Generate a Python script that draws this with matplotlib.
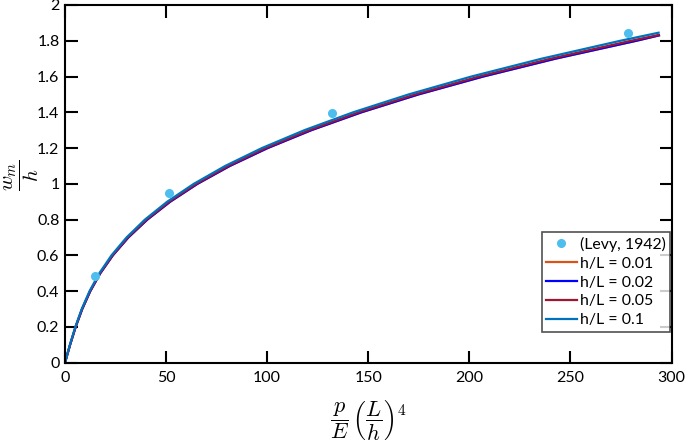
import matplotlib.pyplot as plt

plt.rcParams['font.family'] = ['Lato', 'DejaVu Sans']
plt.rcParams['mathtext.fontset'] = 'cm'

# Levy (1942) reference points
levy_x = [14.8, 51.5, 132, 278.4]
levy_y = [0.482, 0.947, 1.398, 1.842]

# simulated curves for each h/L : load parameter vs w_m/h
w_01 = [0, 0.1, 0.2, 0.3, 0.4, 0.5, 0.6, 0.7, 0.8, 0.9, 1.0, 1.1, 1.2, 1.3, 1.4, 1.5, 1.6, 1.7, 1.8, 1.845]
p_01 = [0, 2.44, 5.12, 8.27, 12.14, 16.96, 22.98, 30.42, 39.53, 50.54, 63.7, 79.24, 97.40, 118.42,
        142.54, 169.99, 201.01, 235.84, 274.73, 293.61]

w_005 = [0, 0.1, 0.2, 0.3, 0.4, 0.5, 0.6, 0.7, 0.8, 0.9, 1.0, 1.1, 1.2, 1.3, 1.4, 1.5, 1.6, 1.7, 1.8, 1.832]
p_005 = [0, 2.49, 5.22, 8.43, 12.38, 17.3, 23.45, 31.0, 40.3, 51.5, 64.9, 80.7, 99.2, 120.7,
         145.2, 173.2, 204.8, 240.3, 280.0, 293.5]

w_002 = [0, 0.1, 0.2, 0.3, 0.4, 0.5, 0.6, 0.7, 0.8, 0.9, 1.0, 1.1, 1.2, 1.3, 1.4, 1.5, 1.6, 1.7, 1.8, 1.83]
p_002 = [0, 2.51, 5.27, 8.51, 12.5, 17.45, 23.65, 31.3, 40.7, 52.0, 65.5, 81.5, 100.2, 121.8,
         146.6, 174.8, 206.8, 242.6, 282.6, 293.8]

w_001 = [0, 0.1, 0.2, 0.3, 0.4, 0.5, 0.6, 0.7, 0.8, 0.9, 1.0, 1.1, 1.2, 1.3, 1.4, 1.5, 1.6, 1.7, 1.8, 1.83]
p_001 = [0, 2.51, 5.28, 8.52, 12.51, 17.46, 23.66, 31.32, 40.72, 52.03, 65.53, 81.53, 100.25, 121.85,
         146.65, 174.85, 206.85, 242.65, 282.65, 293.8]

fig = plt.figure(figsize=(6.85, 4.46), dpi=100)
ax = fig.add_axes([0.0949, 0.1868, 0.8854, 0.802])

ax.plot(levy_x, levy_y, 'o', color='#4DBEEE', markersize=5.5, label='(Levy, 1942)', zorder=5)
ax.plot(p_001, w_001, color='#D95319', lw=1.6, label='h/L = 0.01')
ax.plot(p_002, w_002, color='#0000FF', lw=1.6, label='h/L = 0.02')
ax.plot(p_005, w_005, color='#A2142F', lw=1.6, label='h/L = 0.05')
ax.plot(p_01, w_01, color='#0072BD', lw=1.6, label='h/L = 0.1')

ax.set_xlim(0, 300)
ax.set_ylim(0, 2)
ax.set_xticks(range(0, 301, 50))
ax.set_yticks([i * 0.2 for i in range(11)])
ax.set_yticklabels(['0', '0.2', '0.4', '0.6', '0.8', '1', '1.2', '1.4', '1.6', '1.8', '2'])

for s in ax.spines.values():
    s.set_linewidth(1.5)
ax.tick_params(axis='both', direction='in', top=True, right=True, width=1.5,
               length=9, labelsize=11.5)
ax.tick_params(axis='y', pad=4)
ax.tick_params(axis='x', pad=6)

ax.set_xlabel(r'$\dfrac{p}{E}\,\left(\dfrac{L}{h}\right)^4$', fontsize=16, labelpad=9)
ax.set_ylabel(r'$\dfrac{w_m}{h}$', fontsize=15)
ax.yaxis.set_label_coords(-0.040, 0.522)

leg = ax.legend(loc='lower right', bbox_to_anchor=(0.998, 0.086), borderaxespad=0,
                fancybox=False, edgecolor='#262626', fontsize=11.4, handlelength=1.9,
                handletextpad=0.2, borderpad=0.3, labelspacing=0.3)
leg.get_frame().set_linewidth(1.2)

fig.savefig('out.png', dpi=100)
